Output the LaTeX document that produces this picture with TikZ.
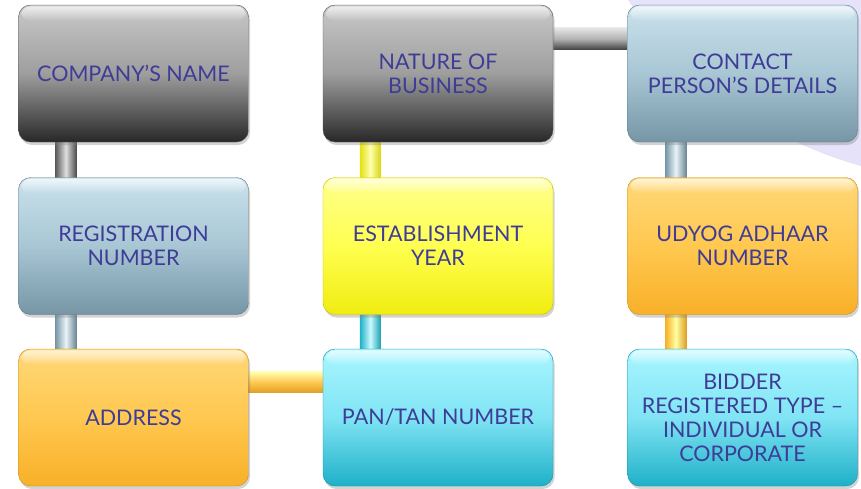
\documentclass[tikz,border=0pt]{standalone}
\usepackage{fontspec}
\setmainfont{Lato}
\usetikzlibrary{calc,shadows,fadings}
\pgfdeclarelayer{bg}
\pgfdeclarelayer{mid}
\pgfsetlayers{bg,mid,main}
\definecolor{txt}{RGB}{62,60,150}
\definecolor{lav}{RGB}{229,226,250}
% box colours
\definecolor{gT}{RGB}{200,200,200}\definecolor{gM}{RGB}{158,158,158}\definecolor{gB}{RGB}{40,40,40}
\definecolor{bT}{RGB}{202,226,236}\definecolor{bM}{RGB}{168,198,212}\definecolor{bB}{RGB}{118,150,166}
\definecolor{yT}{RGB}{255,255,140}\definecolor{yM}{RGB}{255,255,80}\definecolor{yB}{RGB}{240,236,16}
\definecolor{oT}{RGB}{255,216,120}\definecolor{oM}{RGB}{255,200,80}\definecolor{oB}{RGB}{248,176,40}
\definecolor{cT}{RGB}{168,246,255}\definecolor{cM}{RGB}{128,228,244}\definecolor{cB}{RGB}{30,176,200}
\tikzset{
  box/.style={rounded corners=12pt, minimum width=230pt, minimum height=137pt,
    inner sep=0pt, align=center, text=txt, font=\fontsize{21.5}{24}\selectfont,
    drop shadow={shadow xshift=1.5pt, shadow yshift=-3pt, opacity=0.35}},
  graybox/.style={box, draw=gB!80, top color=gT, bottom color=gB, middle color=gM},
  bluebox/.style={box, draw=bB!80!black, top color=bT, bottom color=bB, middle color=bM},
  yelbox/.style={box, draw=yB!80!black, top color=yT, bottom color=yB, middle color=yM},
  orbox/.style={box, draw=oB!80!black, top color=oT, bottom color=oB, middle color=oM},
  cybox/.style={box, draw=cB!80!black, top color=cT, bottom color=cB, middle color=cM},
  vgray/.style={left color=gray!70!black, right color=gray!60!black, middle color=gray!25},
  vblue/.style={left color=bB, right color=bB!90!black, middle color=bT!40},
  vyel/.style={left color=yB!95!black, right color=yB!90!black, middle color=yT!70},
  vcy/.style={left color=cB, right color=cB!90!black, middle color=cT!60},
  vor/.style={left color=oB, right color=oB!90!black, middle color=yT!80},
  hgray/.style={top color=gray!20, bottom color=gray!50!black, middle color=gray!60},
  hor/.style={top color=yT!70, bottom color=oB!90!black, middle color=oM},
  hl/.style={white, path fading=south, fill opacity=0.7, rounded corners=9pt}
}
\begin{document}
\begin{tikzpicture}[x=1pt,y=-1pt]
\useasboundingbox (0,0) rectangle (861,488);
\begin{pgfonlayer}{bg}
  \fill[lav] (976.6,-242.8) circle (424.8);
\end{pgfonlayer}

\node[graybox] (cn)  at (133.5,73.5) {COMPANY’S NAME};
\node[graybox] (nb)  at (438,73.5)   {NATURE OF\\BUSINESS};
\node[bluebox] (cp)  at (742.5,73.5) {CONTACT\\PERSON’S DETAILS};
\node[bluebox] (rn)  at (133.5,246)  {REGISTRATION\\NUMBER};
\node[yelbox]  (ey)  at (438,246)    {ESTABLISHMENT\\YEAR};
\node[orbox]   (ua)  at (742.5,246)  {UDYOG ADHAAR\\NUMBER};
\node[orbox]   (ad)  at (133.5,417.5){ADDRESS};
\node[cybox]   (pt)  at (438,417.5)  {PAN/TAN NUMBER};
\node[cybox]   (bt)  at (742.5,417.5){BIDDER\\REGISTERED TYPE –\\INDIVIDUAL OR\\CORPORATE};

\foreach \n in {cn,nb,cp,rn,ey,ua,ad,pt,bt}{
  \fill[hl] ($(\n.north west)+(3,1.5)$) rectangle ($(\n.north east)+(-3,16)$);
}

\begin{pgfonlayer}{mid}
  \shade[vgray] ($(cn.south west)+(37,-6)$) rectangle ($(rn.north west)+(58,6)$);
  \shade[vblue] ($(rn.south west)+(37,-6)$) rectangle ($(ad.north west)+(58,6)$);
  \shade[vyel]  ($(nb.south west)+(37,-6)$) rectangle ($(ey.north west)+(58,6)$);
  \shade[vcy]   ($(ey.south west)+(37,-6)$) rectangle ($(pt.north west)+(58,6)$);
  \shade[vblue] ($(cp.south west)+(38,-6)$) rectangle ($(ua.north west)+(59,6)$);
  \shade[vor]   ($(ua.south west)+(38,-6)$) rectangle ($(bt.north west)+(59,6)$);
  \shade[hgray] ($(nb.north east)+(-6,23)$) rectangle ($(cp.north west)+(6,45)$);
  \shade[hor]   ($(ad.north east)+(-6,23)$) rectangle ($(pt.north west)+(6,44)$);
\end{pgfonlayer}
\end{tikzpicture}
\end{document}
